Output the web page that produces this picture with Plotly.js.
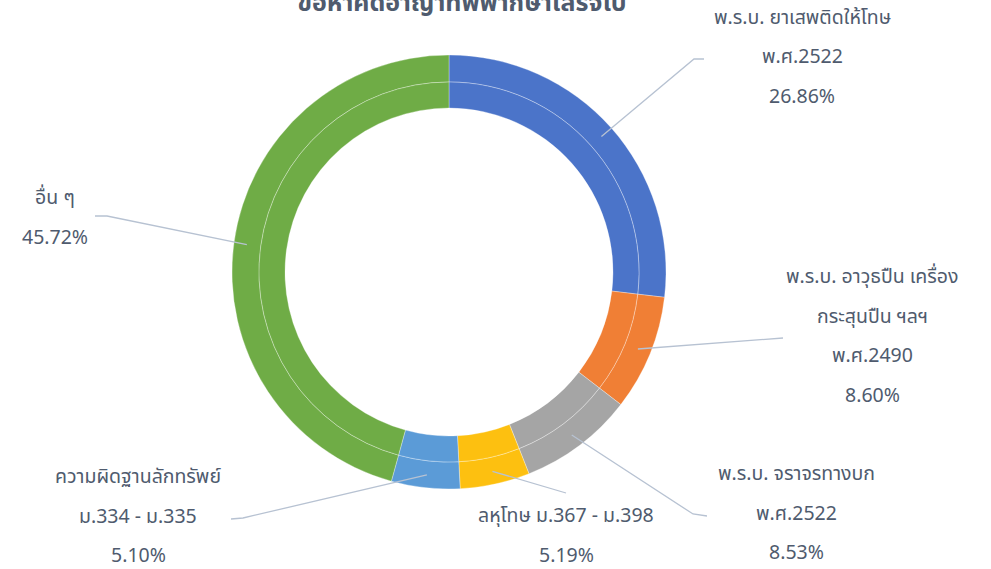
<!DOCTYPE html>
<html>
<head>
<meta charset="utf-8">
<script src="https://cdn.plot.ly/plotly-3.0.1.min.js"></script>
<style>
  html, body { margin: 0; padding: 0; background: #fff; }
  #chart { width: 991px; height: 569px; }
</style>
</head>
<body>
<div id="chart"></div>
<script>
// ข้อมูล
const categories = [
    'พ.ร.บ. ยาเสพติดให้โทษ|พ.ศ.2522',
    'พ.ร.บ. อาวุธปืน เครื่อง|กระสุนปืน ฯลฯ|พ.ศ.2490',
    'พ.ร.บ. จราจรทางบก|พ.ศ.2522',
    'ลหุโทษ ม.367 - ม.398',
    'ความผิดฐานลักทรัพย์|ม.334 - ม.335',
    'อื่น ๆ'
];
const shares = [26.86, 8.60, 8.53, 5.19, 5.10, 45.72];
const chartTitle = 'ข้อหาคดีอาญาที่พิพากษาเสร็จไป';

// สีของแต่ละส่วน
const colors = ['#4b74c9', '#f07f35', '#a5a5a5', '#fdc010', '#5b9bd7', '#6fac46'];

// ตำแหน่งป้าย (px) : กึ่งกลางข้อความบรรทัดแรก + จุดหักของเส้นนำ
const labelPos = [
    { x: 802, y: 18,  elbow: [[694, 59], [704, 59]] },
    { x: 872, y: 277, elbow: [[783, 338]] },
    { x: 796, y: 474, elbow: [[693, 514], [707, 516]] },
    { x: 566, y: 516, elbow: [[566, 493]] },
    { x: 138, y: 477, elbow: [[243, 518], [231, 519]] },
    { x: 55,  y: 198, elbow: [[107, 216], [95, 216]] }
];

const W = 991, H = 569;
const cx = 449, cy = 272;
const rOuter = 217, rMid = 190, rInner = 164;
const px = v => v / W;
const py = v => 1 - v / H;

const labelFont = { family: 'Noto Sans Thai, Tahoma, Leelawadee UI, Noto Sans, sans-serif', size: 19.5, color: '#4f5b6e' };

function ring(r, hole) {
    return {
        type: 'pie',
        labels: categories,
        values: shares,
        sort: false,
        direction: 'clockwise',
        rotation: 0,
        hole: hole,
        textinfo: 'none',
        hoverinfo: 'label+percent',
        showlegend: false,
        marker: { colors: colors, line: { color: 'rgba(255,255,255,0.45)', width: 0.7 } },
        domain: { x: [px(cx - r), px(cx + r)], y: [py(cy + r), py(cy - r)] }
    };
}

const traces = [ring(rOuter, rMid / rOuter), ring(rMid, rInner / rMid)];

// ป้ายและเส้นนำ
const annotations = [];
const shapes = [];
const total = shares.reduce((a, b) => a + b, 0);
let acc = 0;
shares.forEach((v, i) => {
    const mid = (acc + v / 2) / total * 2 * Math.PI;
    acc += v;
    const sx = cx + Math.sin(mid) * 204;
    const sy = cy - Math.cos(mid) * 204;
    const pts = [[sx, sy]].concat(labelPos[i].elbow);
    let path = 'M ' + pts.map(p => px(p[0]) + ' ' + py(p[1])).join(' L ');
    shapes.push({
        type: 'path', xref: 'paper', yref: 'paper', path: path,
        line: { color: '#b7c2d2', width: 1.3 }
    });

    const lines = categories[i].split('|').concat([v.toFixed(2) + '%']);
    lines.forEach((t, k) => {
        annotations.push({
            xref: 'paper', yref: 'paper',
            x: px(labelPos[i].x), y: py(labelPos[i].y + k * 39.5),
            xanchor: 'center', yanchor: 'middle',
            text: t, showarrow: false, font: labelFont
        });
    });
});

const layout = {
    width: W, height: H,
    margin: { l: 0, r: 0, t: 0, b: 0 },
    paper_bgcolor: '#ffffff',
    title: {
        text: '<b>' + chartTitle + '</b>',
        x: px(462), xanchor: 'center',
        y: py(2), yanchor: 'middle',
        font: { family: labelFont.family, size: 25, color: '#4f5b6e' }
    },
    annotations: annotations,
    shapes: shapes
};

Plotly.newPlot('chart', traces, layout, { displayModeBar: false, staticPlot: true });
</script>
</body>
</html>
